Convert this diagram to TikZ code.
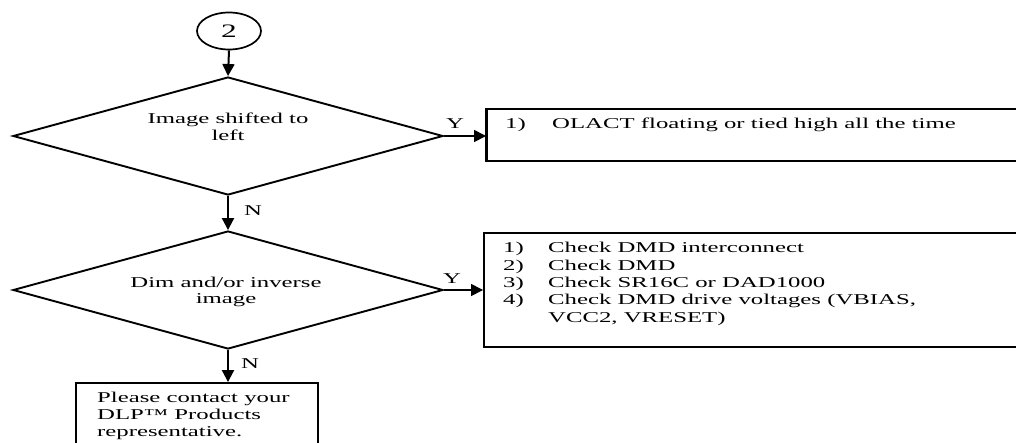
\documentclass[tikz,border=0pt]{standalone}
\usepackage{fontspec}
\setmainfont{Liberation Serif}[FakeStretch=1.65]
\usetikzlibrary{shapes.geometric,arrows.meta}
\tikzset{
  dec/.style={diamond, draw, line width=1.9pt, inner sep=0pt, minimum width=430pt, minimum height=118pt},
  boxnode/.style={rectangle, draw, line width=1.9pt, inner sep=0pt},
  txt/.style={anchor=base west, inner sep=0pt, align=left, font=\fontsize{15}{17.3}\selectfont},
  ctxt/.style={anchor=base, inner sep=0pt, align=center, font=\fontsize{15}{17}\selectfont},
  lbl/.style={anchor=base, inner sep=0pt, font=\fontsize{15}{17}\selectfont},
  arr/.style={-{Triangle[length=12pt,width=12pt]}, line width=2pt},
  harr/.style={-{Triangle[length=12pt,width=12pt]}, line width=1.4pt},
}
\begin{document}
\begin{tikzpicture}[x=1pt,y=-1pt]
\useasboundingbox (0,0) rectangle (1016,442);
\clip (0,0) rectangle (1016,442);
\fill[white] (0,0) rectangle (1016,442);
% start connector
\node[ellipse, draw, line width=1.7pt, minimum width=64pt, minimum height=37pt, inner sep=0pt,
      font=\fontsize{19}{21}\selectfont] (c) at (229,31) {2};
% decisions
\node[dec] (d1) at (228,136) {};
\node[dec] (d2) at (228,290) {};
\node[ctxt] (t1) at (228,140) {Image shifted to\\left};
\node[ctxt, font=\fontsize{15}{16}\selectfont] (t2) at (226,303) {Dim and/or inverse\\image};
% boxes
\node[boxnode, minimum width=553pt, minimum height=52pt] (b1) at (763.5,135) {};
\node[boxnode, minimum width=556pt, minimum height=114pt] (b2) at (762,290) {};
\node[boxnode, minimum width=242pt, minimum height=77pt] (b3) at (197,421.5) {};
\draw[line width=2.8pt] (b1.north west) -- (b1.south west);
% box texts
\node[txt] (x1) at (505,128) {\makebox[47pt][l]{1)}OLACT floating or tied high all the time};
\node[txt] (x2) at (503,322) {\makebox[45pt][l]{1)}Check DMD interconnect\\
\makebox[45pt][l]{2)}Check DMD\\
\makebox[45pt][l]{3)}Check SR16C or DAD1000\\
\makebox[45pt][l]{4)}Check DMD drive voltages (VBIAS,\\
\hspace*{45pt}VCC2, VRESET)};
\node[txt, font=\fontsize{15}{17}\selectfont] (x3) at (97,436) {Please contact your\\DLP™ Products\\representative.};
% connectors
\draw[arr] (c.south) -- (d1.north);
\draw[harr] (d1.east) -- (d1.east -| b1.west);
\draw[arr] (d1.south) -- (d2.north);
\draw[harr] (d2.east) -- (d2.east -| b2.west);
\draw[arr] (d2.south) -- (d2.south |- b3.north);
% branch labels
\node[lbl] (y1) at (455,128) {Y};
\node[lbl] (y2) at (452,283) {Y};
\node[lbl] (n1) at (253,215) {N};
\node[lbl] (n2) at (250,368) {N};
\end{tikzpicture}
\end{document}
